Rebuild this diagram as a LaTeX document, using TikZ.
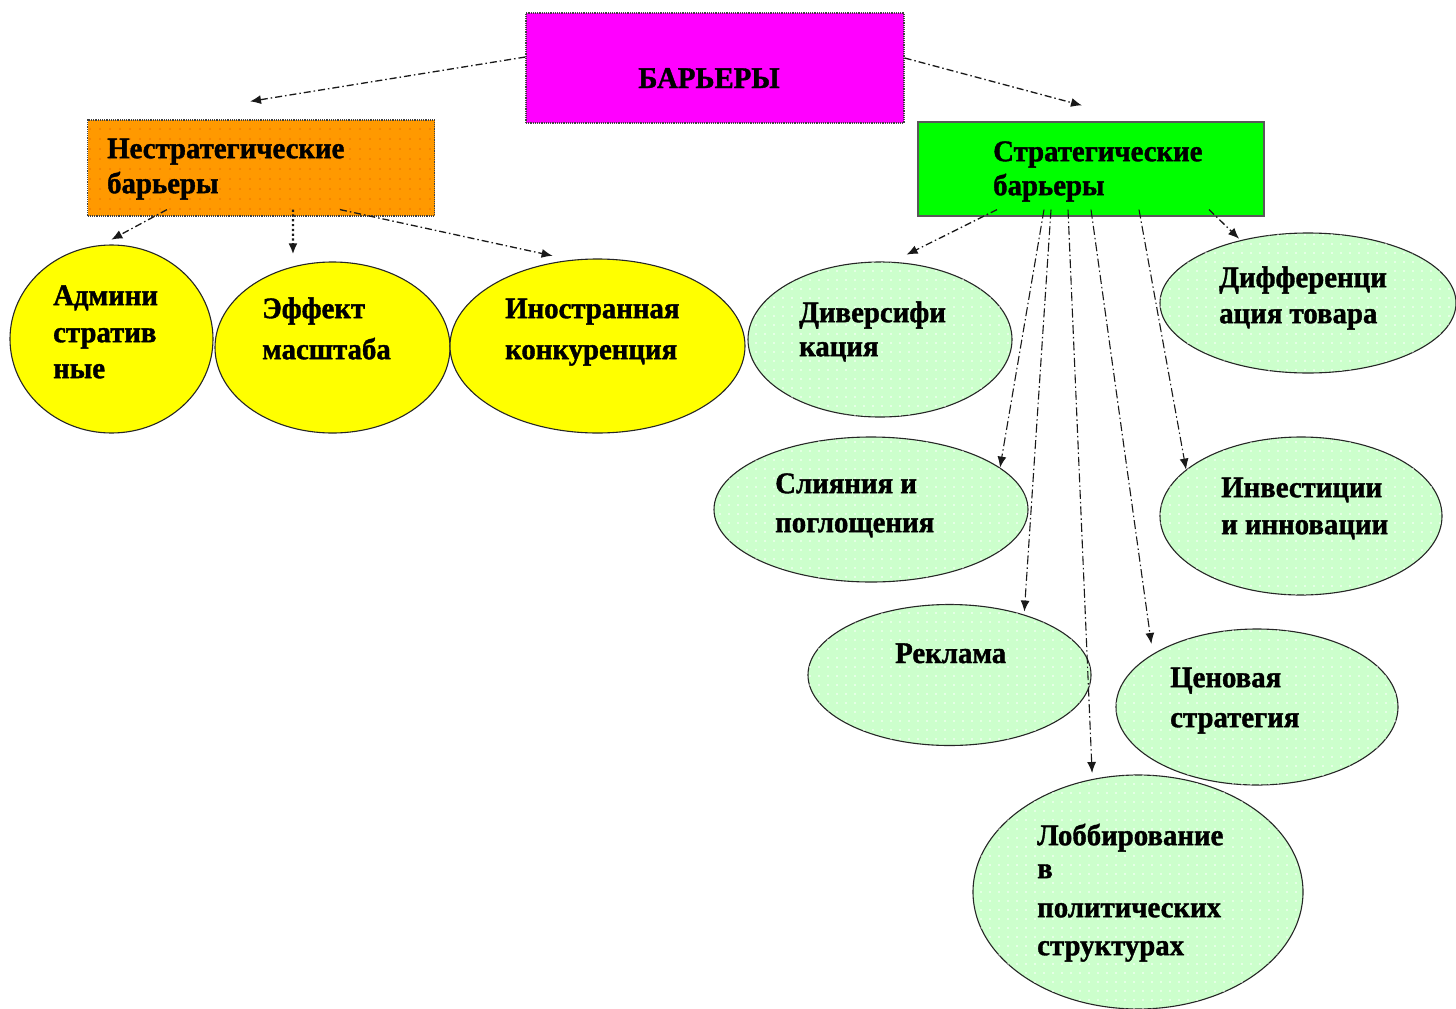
\documentclass[tikz,border=0pt]{standalone}
\usepackage{fontspec}
\setmainfont{Liberation Serif}[BoldFeatures={FakeStretch=0.96,FakeBold=1.3}]
\usetikzlibrary{shapes.geometric,arrows.meta,patterns.meta}
\definecolor{mag}{HTML}{FF00FF}
\definecolor{org}{HTML}{FF9900}
\definecolor{grn}{HTML}{00FF00}
\definecolor{yel}{HTML}{FFFF00}
\definecolor{lgr}{HTML}{CCFFCC}
\definecolor{orgdot}{HTML}{F07000}
\begin{document}
\begin{tikzpicture}[x=1pt,y=-1pt,
  rbox/.style={rectangle, inner sep=0pt, line width=1.2pt},
  shp/.style={ellipse, inner sep=0pt, draw=black!85, line width=1.1pt},
  yell/.style={shp, fill=yel},
  lg/.style={shp, fill=lgr, postaction={pattern={Dots[distance=9pt,radius=0.9pt]}, pattern color=white}},
  lbl/.style={font=\fontsize{30}{37}\selectfont\bfseries, align=left, inner sep=0pt, anchor=north west},
  tip/.style={-{Latex[length=11pt,width=9pt]}},
  arr/.style={tip, line width=1.3pt, draw=black!90, dash pattern=on 7pt off 3pt on 1.5pt off 3pt},
  arrthin/.style={tip, line width=1.1pt, draw=black!90, dash pattern=on 9pt off 3pt on 1.5pt off 3pt},
  dotarr/.style={tip, line width=2.2pt, draw=black!90, dash pattern=on 2.2pt off 2.6pt}
]
\useasboundingbox (0,0) rectangle (1456,1009);
\fill[white] (0,0) rectangle (1456,1009);

% boxes
\node[rbox, fill=mag, draw=black!75, densely dotted, minimum width=378pt, minimum height=110pt] (bar) at (715,68) {};
\node[rbox, fill=org, draw=black!75, densely dotted, minimum width=347pt, minimum height=96pt,
      postaction={pattern={Dots[distance=10pt,radius=0.8pt]}, pattern color=orgdot}] (nstr) at (261,168) {};
\node[rbox, fill=grn, draw=black!65, minimum width=346pt, minimum height=94pt] (str) at (1091,169) {};

% yellow ellipses
\node[yell, minimum width=203pt, minimum height=188pt] (adm) at (111.5,339) {};
\node[yell, minimum width=235pt, minimum height=171pt] (eff) at (332.5,347.5) {};
\node[yell, minimum width=295pt, minimum height=174pt] (ino) at (597.5,346) {};

% light green ellipses
\node[lg, minimum width=264pt, minimum height=155pt] (div) at (880,339.5) {};
\node[lg, minimum width=296pt, minimum height=140pt] (dif) at (1308,303) {};
\node[lg, minimum width=314pt, minimum height=145pt] (sli) at (871,509.5) {};
\node[lg, minimum width=282pt, minimum height=158pt] (inv) at (1301,516) {};
\node[lg, minimum width=283pt, minimum height=141pt] (rek) at (949.5,675) {};
\node[lg, minimum width=282pt, minimum height=156pt] (cen) at (1257,707) {};
\node[lg, minimum width=330pt, minimum height=234pt] (lob) at (1138,892) {};

% labels
\node[lbl, anchor=base] (bar-t) at (709,88) {БАРЬЕРЫ};
\node[lbl] (nstr-t) at (107,132.1) {\strut Нестратегические\\[-2pt]\strut барьеры};
\node[lbl] (str-t) at (993,135.1) {\strut Стратегические\\[-3pt]\strut барьеры};
\node[lbl] (adm-t) at (53,279.1) {\strut Админи\\\strut стратив\\[-1pt]\strut ные};
\node[lbl] (eff-t) at (262,292.1) {\strut Эффект\\[4pt]\strut масштаба};
\node[lbl] (ino-t) at (505,292.1) {\strut Иностранная\\[4pt]\strut конкуренция};
\node[lbl] (div-t) at (799,296.1) {\strut Диверсифи\\[-3pt]\strut кация};
\node[lbl] (dif-t) at (1219,261.1) {\strut Дифференци\\[-1pt]\strut ация товара};
\node[lbl] (sli-t) at (775,467.1) {\strut Слияния и\\[2pt]\strut поглощения};
\node[lbl] (inv-t) at (1221,471.1) {\strut Инвестиции\\\strut и инновации};
\node[lbl, anchor=base west] (rek-t) at (895,663) {Реклама};
\node[lbl] (cen-t) at (1170,661.1) {\strut Ценовая\\[3pt]\strut стратегия};
\node[lbl] (lob-t) at (1037,819.1) {\strut Лоббирование\\[-4pt]\strut в\\[2pt]\strut политических\\[1pt]\strut структурах};

% connectors
\draw[arr] ([yshift=11pt]bar.west) -- ([xshift=-11pt,yshift=18pt]nstr.north);
\draw[arr] ([yshift=10pt]bar.east) -- ([xshift=-9pt,yshift=16pt]str.north);

\draw[arr, shorten >=11pt] ([xshift=-94pt,yshift=7pt]nstr.south) -- (adm.96);
\draw[dotarr, shorten >=12pt] ([xshift=32pt,yshift=7pt]nstr.south) -- (eff.116);
\draw[arr, shorten >=19pt] ([xshift=79pt,yshift=7pt]nstr.south) -- (ino.107);

\draw[arr, shorten >=16pt] ([xshift=-94pt,yshift=7pt]str.south) -- (div.81);
\draw[arrthin, shorten >=0pt] ([xshift=-47pt,yshift=7pt]str.south) -- (sli.18);
\draw[arrthin, shorten >=3pt] ([xshift=-40pt,yshift=7pt]str.south) -- (rek.39);
\draw[arrthin, shorten >=6pt] ([xshift=-23pt,yshift=7pt]str.south) -- (lob.112);
\draw[arrthin, shorten >=10pt] ([xshift=0pt,yshift=7pt]str.south) -- (cen.153);
\draw[arrthin, shorten >=0pt] ([xshift=48pt,yshift=7pt]str.south) -- (inv.158);
\draw[arr, shorten >=2pt] ([xshift=118pt,yshift=7pt]str.south) -- (dif.137);
\end{tikzpicture}
\end{document}
